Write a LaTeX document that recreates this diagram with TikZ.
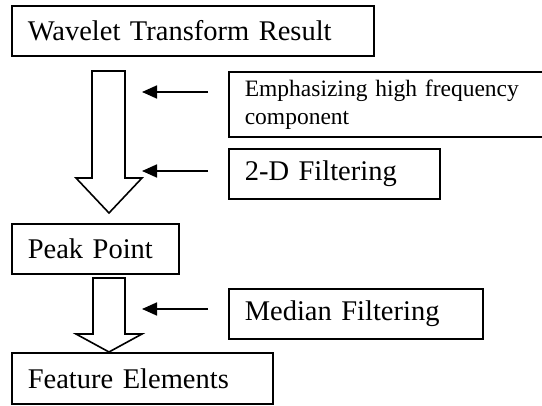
\documentclass[tikz,border=0pt]{standalone}
\usepackage{fontspec}
\setmainfont{Liberation Serif}
\usetikzlibrary{arrows.meta}
\tikzset{
  stage/.style={draw, line width=1.6pt, rectangle, anchor=north west, align=left,
    inner xsep=16pt, inner ysep=0pt, font=\fontsize{28.5}{33}\selectfont},
  note/.style={stage, font=\fontsize{23.5}{28}\selectfont},
  hollow/.style={draw, line width=1.6pt, fill=white, line join=miter},
  feed/.style={line width=1.7pt, -{Triangle[length=15pt,width=13pt]}}
}
\begin{document}
\begin{tikzpicture}[x=1pt,y=-1pt]
\useasboundingbox (0,0) rectangle (542,406);
\node[stage, minimum width=362pt, text width=330pt, minimum height=50pt] (wav) at (11,5) {Wavelet Transform Result};
\node[note, minimum width=330pt, text width=298pt, minimum height=65pt] (emph) at (228,71) {Emphasizing high frequency\\component};
\node[stage, minimum width=211pt, text width=179pt, minimum height=50pt] (filt) at (228,148) {2-D Filtering};
\node[stage, minimum width=167pt, text width=135pt, minimum height=50pt] (peak) at (11,223) {Peak Point};
\node[stage, minimum width=254pt, text width=222pt, minimum height=50pt] (med) at (228,288) {Median Filtering};
\node[stage, minimum width=261pt, text width=229pt, minimum height=51pt] (feat) at (11,352) {Feature Elements};
% hollow block arrows
\draw[hollow] (92,71) -- (125,71) -- (125,178) -- (142,178) -- (109,213) -- (76,178) -- (92,178) -- cycle;
\draw[hollow] (93,278) -- (125,278) -- (125,334) -- (142,334) -- (109,352) -- (76,334) -- (93,334) -- cycle;
% feed arrows
\coordinate (e1s) at (208,92);  \coordinate (e1e) at (142,92);
\coordinate (f1s) at (208,171); \coordinate (f1e) at (142,171);
\coordinate (m1s) at (208,309); \coordinate (m1e) at (142,309);
\draw[feed] (e1s) -- (e1e);
\draw[feed] (f1s) -- (f1e);
\draw[feed] (m1s) -- (m1e);
\end{tikzpicture}
\end{document}
